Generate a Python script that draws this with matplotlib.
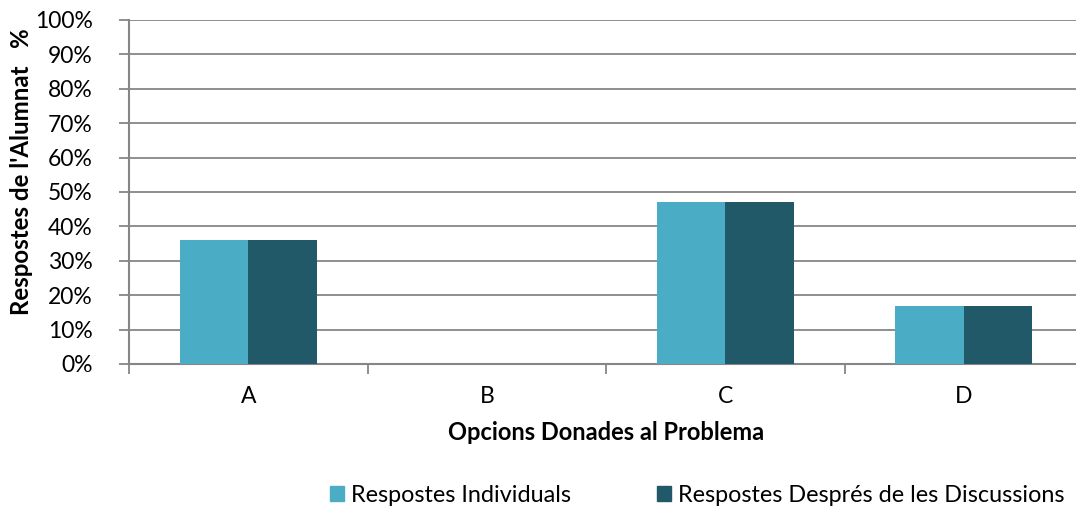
import numpy as np
import matplotlib.pyplot as plt
from matplotlib.patches import Patch

# dades del gràfic
opcions = ['A', 'B', 'C', 'D']
individuals = [36, 0, 47, 17]
despres_discussio = [36, 0, 47, 17]
noms_series = ['Respostes Individuals', 'Respostes Després de les Discussions']

color_clar = '#4BACC6'
color_fosc = '#215968'
color_eixos = '#868686'

plt.rcParams['font.family'] = ['Lato', 'DejaVu Sans']
mida = 16.5

fig = plt.figure(figsize=(10.76, 5.07), dpi=100)
W, H = 1076, 507
ax = fig.add_axes([129 / W, 1 - 364 / H, (1083 - 129) / W, (364 - 20) / H])

x = np.arange(len(opcions))
amplada = 0.287
ax.bar(x - amplada / 2, individuals, amplada, color=color_clar, zorder=3)
ax.bar(x + amplada / 2, despres_discussio, amplada, color=color_fosc, zorder=3)

ax.set_xlim(-0.5, len(opcions) - 0.5)
ax.set_ylim(0, 100)
ax.set_yticks(range(0, 101, 10))
ax.set_yticklabels([f'{v}%' for v in range(0, 101, 10)], fontsize=mida)
ax.yaxis.grid(True, color=color_eixos, linewidth=1.3, zorder=0)

# marques de categoria entre les barres
ax.set_xticks(np.arange(-0.5, len(opcions), 1))
ax.set_xticklabels([])
ax.set_xticks(x, minor=True)
ax.set_xticklabels(opcions, minor=True, fontsize=mida)
ax.tick_params(axis='x', which='major', length=7, width=1.3, color=color_eixos)
ax.tick_params(axis='x', which='minor', length=0, pad=16)
ax.tick_params(axis='y', length=7, width=1.3, color=color_eixos, pad=19)

for s in ['top', 'right']:
    ax.spines[s].set_visible(False)
for s in ['left', 'bottom']:
    ax.spines[s].set_color(color_eixos)
    ax.spines[s].set_linewidth(1.5)

ax.set_xlabel('Opcions Donades al Problema', fontsize=17, fontweight='bold', labelpad=10)
fig.text(22 / W, 1 - 172 / H, "Respostes de l'Alumnat   %", rotation=90,
         fontsize=17.3, fontweight='bold', ha='center', va='center')

handles = [Patch(color=color_clar), Patch(color=color_fosc)]
fig.legend(handles, noms_series, loc='center', bbox_to_anchor=(697 / W, 1 - 495 / H),
           ncol=2, frameon=False, fontsize=16.8, handlelength=0.6, handleheight=0.6,
           handletextpad=0.3, columnspacing=3.7)

fig.savefig('out.png', dpi=100)
